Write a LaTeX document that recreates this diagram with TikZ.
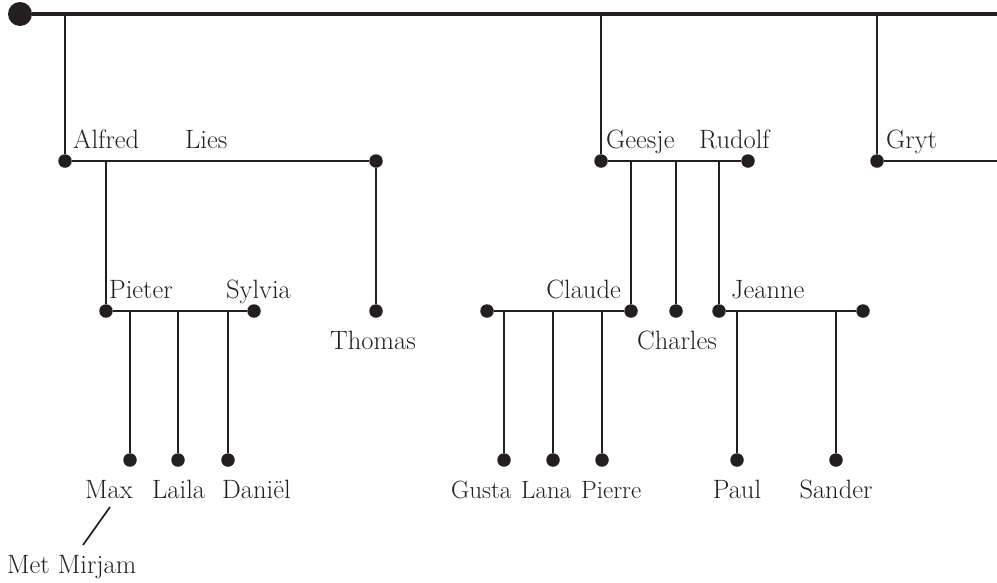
\documentclass[tikz,border=0pt]{standalone}
\begin{document}
\begin{tikzpicture}[x=1pt,y=-1pt,
  ink/.style={draw={rgb,255:red,35;green,31;blue,32}},
  dot/.style={circle,fill={rgb,255:red,35;green,31;blue,32},inner sep=0pt,minimum size=13.5pt},
  bigdot/.style={circle,fill={rgb,255:red,35;green,31;blue,32},inner sep=0pt,minimum size=24pt},
  lbl/.style={inner sep=0pt,font=\fontsize{26.5}{30}\selectfont,text={rgb,255:red,35;green,31;blue,32}},
  lbls/.style={lbl,font=\fontsize{25}{30}\selectfont},
  ln/.style={ink,line width=2.1pt},
  topln/.style={ink,line width=3.2pt}]
\useasboundingbox (0,0) rectangle (997,582);
% top line
\node[bigdot] (root) at (20,14) {};
\coordinate (rootend) at (997,14);
\draw[topln] (root) -- (rootend);
\coordinate (t1) at (65,14);
\coordinate (t2) at (601,14);
\coordinate (t3) at (877,14);
% Alfred - Lies
\node[dot] (alfred) at (65,161) {};
\node[dot] (lies) at (376,161) {};
\draw[ln] (t1) -- (alfred);
\draw[ln] (alfred) -- (lies);
\node[lbl,anchor=base west] (lalfred) at (73,148) {Alfred};
\node[lbl,anchor=base west] (llies) at (185,148) {Lies};
% Pieter - Sylvia
\coordinate (a1) at (106,161);
\node[dot] (pieter) at (106,311) {};
\node[dot] (sylvia) at (254,311) {};
\draw[ln] (a1) -- (pieter);
\draw[ln] (pieter) -- (sylvia);
\node[lbl,anchor=base west] (lpieter) at (109,298) {Pieter};
\node[lbl,anchor=base east] (lsylvia) at (291,298) {Sylvia};
% Thomas
\node[dot] (thomas) at (376,311) {};
\draw[ln] (lies) -- (thomas);
\node[lbl,anchor=base] (lthomas) at (373,349) {Thomas};
% Pieter's children
\coordinate (p1) at (130,311);
\coordinate (p2) at (178,311);
\coordinate (p3) at (228,311);
\node[dot] (max) at (130,460) {};
\node[dot] (laila) at (178,460) {};
\node[dot] (daniel) at (228,460) {};
\draw[ln] (p1) -- (max);
\draw[ln] (p2) -- (laila);
\draw[ln] (p3) -- (daniel);
\node[lbl,anchor=base west] (lmax) at (85,498) {Max};
\node[lbl,anchor=base west] (llaila) at (152,498) {Laila};
\node[lbl,anchor=base west] (ldaniel) at (222,498) {Daniël};
\coordinate (m1) at (110,507);
\coordinate (m2) at (83,545);
\draw[ln,line width=1.7pt] (m1) -- (m2);
\node[lbl,anchor=base west] (lmirjam) at (7,573) {Met Mirjam};
% Geesje - Rudolf
\node[dot] (geesje) at (601,161) {};
\node[dot] (rudolf) at (748,161) {};
\draw[ln] (t2) -- (geesje);
\draw[ln] (geesje) -- (rudolf);
\node[lbl,anchor=base west] (lgeesje) at (606,148) {Geesje};
\node[lbl,anchor=base west] (lrudolf) at (699,148) {Rudolf};
% children of Geesje
\coordinate (g1) at (631,161);
\coordinate (g2) at (676,161);
\coordinate (g3) at (719,161);
\node[dot] (claude) at (631,311) {};
\node[dot] (charles) at (676,311) {};
\node[dot] (jeanne) at (719,311) {};
\draw[ln] (g1) -- (claude);
\draw[ln] (g2) -- (charles);
\draw[ln] (g3) -- (jeanne);
\node[lbl,anchor=base east] (lclaude) at (621,298) {Claude};
\node[lbl,anchor=base] (lcharles) at (677,349) {Charles};
\node[lbl,anchor=base west] (ljeanne) at (731,298) {Jeanne};
% Claude's partner and children
\node[dot] (cpart) at (487,311) {};
\draw[ln] (cpart) -- (claude);
\coordinate (c1) at (504,311);
\coordinate (c2) at (553,311);
\coordinate (c3) at (602,311);
\node[dot] (gusta) at (504,460) {};
\node[dot] (lana) at (553,460) {};
\node[dot] (pierre) at (602,460) {};
\draw[ln] (c1) -- (gusta);
\draw[ln] (c2) -- (lana);
\draw[ln] (c3) -- (pierre);
\node[lbls,anchor=base west] (lgusta) at (451,498) {Gusta};
\node[lbls,anchor=base west] (llana) at (521,498) {Lana};
\node[lbls,anchor=base west] (lpierre) at (581,498) {Pierre};
% Jeanne's partner and children
\node[dot] (jpart) at (863,311) {};
\draw[ln] (jeanne) -- (jpart);
\coordinate (j1) at (737,311);
\coordinate (j2) at (836,311);
\node[dot] (paul) at (737,460) {};
\node[dot] (sander) at (836,460) {};
\draw[ln] (j1) -- (paul);
\draw[ln] (j2) -- (sander);
\node[lbl,anchor=base] (lpaul) at (737,498) {Paul};
\node[lbl,anchor=base] (lsander) at (836,498) {Sander};
% Gryt
\node[dot] (gryt) at (877,161) {};
\coordinate (grytend) at (997,161);
\draw[ln] (t3) -- (gryt);
\draw[ln] (gryt) -- (grytend);
\node[lbl,anchor=base west] (lgryt) at (886,148) {Gryt};
\end{tikzpicture}
\end{document}
